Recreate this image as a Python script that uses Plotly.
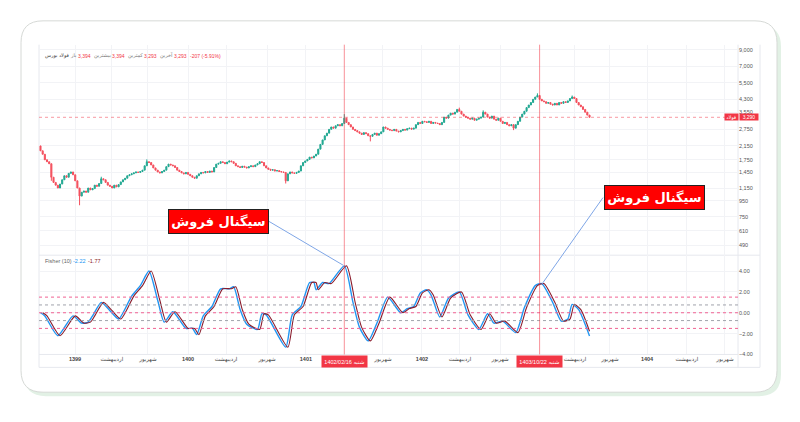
import math
import plotly.graph_objects as go

W, H = 800, 422

# ---------------- data ----------------
first_open = 2150
closes = [
    2000, 1900, 1750, 1700, 1650, 1350, 1250, 1200, 1150, 1220,
    1300, 1380, 1350, 1430, 1460, 1400, 1280, 1150, 1020, 1080,
    1100, 1080, 1150, 1120, 1140, 1200, 1180, 1230, 1320, 1300,
    1250, 1200, 1180, 1150, 1200, 1170, 1210, 1260, 1300, 1330,
    1380, 1400, 1420, 1440, 1460, 1450, 1470, 1500, 1600, 1700,
    1680, 1620, 1550, 1500, 1460, 1440, 1470, 1500, 1580, 1640,
    1620, 1600, 1560, 1500, 1470, 1440, 1420, 1450, 1410, 1380,
    1350, 1330, 1380, 1420, 1450, 1440, 1470, 1450, 1480, 1460,
    1560, 1640, 1660, 1700, 1680, 1650, 1690, 1720, 1700, 1660,
    1600, 1580, 1560, 1590, 1570, 1550, 1580, 1600, 1580, 1620,
    1650, 1700, 1680, 1600, 1550, 1520, 1500, 1510, 1480, 1490,
    1470, 1460, 1450, 1280, 1420, 1460, 1440, 1430, 1450, 1480,
    1600, 1680, 1720, 1760, 1820, 1800, 1850, 1900, 2050, 2200,
    2350, 2500, 2600, 2750, 2850, 2800, 2900, 2950, 2900, 3000,
    3250, 3050, 2950, 2850, 2750, 2700, 2650, 2600, 2550, 2620,
    2580, 2500, 2480, 2550, 2600, 2520, 2580, 2650, 2850, 2800,
    2750, 2720, 2700, 2750, 2680, 2650, 2700, 2750, 2720, 2780,
    2800, 2760, 2800, 2950, 3050, 3000, 3100, 3080, 3050, 3100,
    3000, 3050, 3020, 3000, 2950, 3050, 3300, 3250, 3400, 3500,
    3450, 3550, 3700, 3600, 3450, 3350, 3300, 3250, 3200, 3250,
    3150, 3200, 3250, 3300, 3550, 3450, 3300, 3250, 3350, 3200,
    3150, 3250, 3100, 3000, 3050, 2950, 2900, 2950, 2800, 2950,
    3100, 3300, 3450, 3600, 3800, 3950, 4100, 4300, 4450, 4550,
    4300, 4200, 4150, 4050, 4100, 4000, 3950, 4050, 3950, 4100,
    4050, 4150, 4100, 4200, 4350, 4450, 4350, 4100, 3950, 3850,
    3700, 3550, 3400, 3290,
]
wick_high = {28: 1360, 49: 1760, 140: 3450, 193: 3800, 204: 3650, 229: 4700, 245: 4550}
wick_low = {5: 1280, 18: 890, 113: 1230, 152: 2300, 218: 2720}

fisher_idx = [0, 2, 8, 15, 19, 22, 24, 28, 32, 36, 42, 46, 50, 54, 57, 61, 67, 70, 72, 75,
              79, 83, 87, 89, 92, 95, 100, 102, 104, 113, 116, 120, 124, 126, 127, 130, 133,
              140, 144, 147, 151, 155, 160, 166, 169, 172, 175, 178, 180, 184, 188, 193, 197,
              202, 206, 209, 213, 219, 223, 228, 231, 236, 240, 243, 245, 248, 253]
fisher_val = [0.0, -0.3, -2.2, -0.3, -1.0, -0.9, -0.3, 1.0, 0.2, -0.6, 1.6, 2.6, 4.0, 1.2, -0.9,
              0.1, -1.5, -1.5, -2.1, -0.3, 0.6, 2.3, 2.3, 2.5, 0.3, -1.1, -1.6, -0.1, -0.2, -3.3,
              -0.2, 0.6, 2.9, 2.9, 2.2, 2.9, 2.8, 4.5, 1.0, -1.4, -2.7, -1.0, 1.5, 0.0, 0.4, 0.6,
              1.9, 2.2, 1.7, -0.4, 1.4, 2.0, -0.2, -1.6, -0.1, -1.0, -0.8, -1.9, 0.5, 2.6, 2.8,
              1.0, -0.8, -0.6, 0.8, 0.3, -2.22]
trigger_last = -1.77

price_ticks = [490, 610, 750, 950, 1150, 1450, 1750, 2150, 2750, 3550, 4300, 5500, 7000, 9000]
fisher_ticks = [4, 2, 0, -2, -4]
fisher_levels_pink = [1.5, 0.0, -1.5]
fisher_levels_gray = [0.75, -0.75]

time_tick_idx = [15.9, 32.9, 49.5, 68.0, 85.5, 104.4, 122.3, 157.8, 175.8, 193.3, 211.8,
                 246.3, 262.4, 279.5, 297.9, 315.4]
time_tick_text = ["<b>1399</b>", "اردیبهشت", "شهریور", "<b>1400</b>", "اردیبهشت", "شهریور",
                  "<b>1401</b>", "شهریور", "<b>1402</b>", "اردیبهشت", "شهریور",
                  "اردیبهشت", "شهریور", "<b>1404</b>", "اردیبهشت", "شهریور"]

signal_idx = [140, 230]
signal_dates = ["1402/02/16 شنبه", "1403/10/22 شنبه"]
signal_text = "سیگنال فروش"
last_price = 3290
symbol = "فولاد"

header = [("فولاد بورس", "#444"), ("باز", "#777"), ("3,394", "#f23645"),
          ("بیشترین", "#777"), ("3,394", "#f23645"), ("کمترین", "#777"),
          ("3,293", "#f23645"), ("آخرین", "#777"), ("3,293", "#f23645"),
          ("-207 (-5.91%)", "#f23645")]
header_x = [43, 68, 76, 92, 110, 126, 142, 158, 172, 188]

# ---------------- helpers ----------------
def px(x):
    return x / W

def py(y):
    return 1 - y / H

def rrect(x0, y0, x1, y1, r):
    pts = [("M", x0 + r, y0), ("L", x1 - r, y0), ("Q", x1, y0, x1, y0 + r), ("L", x1, y1 - r),
           ("Q", x1, y1, x1 - r, y1), ("L", x0 + r, y1), ("Q", x0, y1, x0, y1 - r),
           ("L", x0, y0 + r), ("Q", x0, y0, x0 + r, y0)]
    s = ""
    for p in pts:
        s += p[0] + " "
        coords = p[1:]
        for k in range(0, len(coords), 2):
            s += f"{px(coords[k]):.5f},{py(coords[k+1]):.5f} "
    return s + "Z"

N = len(closes)
idx = list(range(N))
opens = [first_open] + closes[:-1]
highs = [wick_high.get(i, max(o, c)) for i, (o, c) in enumerate(zip(opens, closes))]
lows = [wick_low.get(i, min(o, c)) for i, (o, c) in enumerate(zip(opens, closes))]

X0_PX, X1_PX = 39, 738
BAR_PX = 2.17
C0_PX = 40.5
xr = [(X0_PX - C0_PX) / BAR_PX, (X1_PX - C0_PX) / BAR_PX]

TOP_Y0, TOP_Y1 = 45, 257
LOW_Y1 = 357

FONT = "Liberation Sans, DejaVu Sans, sans-serif"
FA_FONT = "DejaVu Sans, sans-serif"

fig = go.Figure()

fig.add_trace(go.Candlestick(
    x=idx, open=opens, high=highs, low=lows, close=closes,
    increasing=dict(line=dict(color="#22a892", width=1), fillcolor="#22a892"),
    decreasing=dict(line=dict(color="#f4505e", width=1), fillcolor="#f4505e"),
    whiskerwidth=0, xaxis="x", yaxis="y", hoverinfo="skip", showlegend=False,
))

fig.add_trace(go.Scatter(
    x=[xr[0], xr[1]], y=[last_price, last_price], mode="lines",
    line=dict(color="rgba(242,54,69,0.5)", width=1, dash="3px,3px"),
    xaxis="x", yaxis="y", hoverinfo="skip", showlegend=False,
))

fig.add_trace(go.Scatter(
    x=fisher_idx, y=fisher_val, mode="lines",
    line=dict(color="#2196f3", width=1.4, shape="spline", smoothing=0.6),
    xaxis="x", yaxis="y2", hoverinfo="skip", showlegend=False,
))
trig_x = [i + 1 for i in fisher_idx[:-1]] + [fisher_idx[-1]]
trig_y = fisher_val[:-1] + [trigger_last]
fig.add_trace(go.Scatter(
    x=trig_x, y=trig_y, mode="lines",
    line=dict(color="#8a1c2c", width=1.1, shape="spline", smoothing=0.6),
    xaxis="x", yaxis="y2", hoverinfo="skip", showlegend=False,
))

shapes = []
# card with soft green shadow
shapes.append(dict(type="path", xref="paper", yref="paper", path=rrect(24, 25, 781, 399, 22),
                   fillcolor="#e2f1e5", line=dict(width=0), layer="below"))
shapes.append(dict(type="path", xref="paper", yref="paper", path=rrect(21, 21, 777, 395, 22),
                   fillcolor="#ffffff", line=dict(color="#d6d9d6", width=1), layer="below"))
# panel borders
for (a, b, c, d) in [(39, 45, 39, 370), (760, 45, 760, 370), (39, 370, 760, 370),
                     (39, TOP_Y1, 760, TOP_Y1), (X1_PX, 45, X1_PX, 370), (39, LOW_Y1, 738, LOW_Y1)]:
    shapes.append(dict(type="line", xref="paper", yref="paper", x0=px(a), y0=py(b), x1=px(c), y1=py(d),
                       line=dict(color="#e6e8ee", width=1), layer="below"))
# fisher levels
for lv in fisher_levels_pink:
    shapes.append(dict(type="line", xref="paper", yref="y2", x0=px(X0_PX), x1=px(X1_PX), y0=lv, y1=lv,
                       line=dict(color="#f06292", width=1, dash="3px,3px")))
for lv in fisher_levels_gray:
    shapes.append(dict(type="line", xref="paper", yref="y2", x0=px(X0_PX), x1=px(X1_PX), y0=lv, y1=lv,
                       line=dict(color="#a0a3ab", width=1, dash="3px,3px")))
# signal vertical lines
for s in signal_idx:
    shapes.append(dict(type="line", xref="x", yref="paper", x0=s, x1=s, y0=py(LOW_Y1), y1=py(TOP_Y0),
                       line=dict(color="rgba(242,54,69,0.55)", width=1)))
# pointer lines
shapes.append(dict(type="line", xref="paper", yref="paper", x0=px(269), y0=py(223), x1=px(343), y1=py(267),
                   line=dict(color="#7fa6e6", width=1)))
shapes.append(dict(type="line", xref="paper", yref="paper", x0=px(603), y0=py(199), x1=px(542), y1=py(286),
                   line=dict(color="#7fa6e6", width=1)))

annotations = []
for (t, col), xl in zip(header, header_x):
    annotations.append(dict(xref="paper", yref="paper", x=px(xl), y=py(56), text=t, showarrow=False,
                            xanchor="left", yanchor="middle", font=dict(size=5, color=col, family=FONT)))
# fisher legend
for t, col, xl in [("Fisher (10)", "#666", 43), (f"{fisher_val[-1]:.2f}", "#2196f3", 71),
                   (f"{trigger_last:.2f}", "#8a1c2c", 86)]:
    annotations.append(dict(xref="paper", yref="paper", x=px(xl), y=py(263), text=t, showarrow=False,
                            xanchor="left", yanchor="middle", font=dict(size=5.5, color=col, family=FONT)))
# signal boxes
for cx, cy in [(218, 223.5), (654.5, 198.5)]:
    annotations.append(dict(xref="paper", yref="paper", x=px(cx), y=py(cy), text=f"<b>{signal_text}</b>",
                            showarrow=False, xanchor="center", yanchor="middle",
                            bgcolor="#ff0000", bordercolor="#222", borderwidth=1, borderpad=0,
                            width=99, height=23, font=dict(size=13, color="white", family=FA_FONT)))
# time boxes
for s, d in zip(signal_idx, signal_dates):
    annotations.append(dict(xref="x", yref="paper", x=s, y=py(364), text=d, showarrow=False,
                            xanchor="center", yanchor="middle", bgcolor="#f23645", borderpad=2,
                            width=41, height=7, font=dict(size=5.5, color="white", family=FONT)))
# price boxes
annotations.append(dict(xref="paper", yref="y", x=px(748.5), y=math.log10(last_price), text=f"{last_price:,}",
                        showarrow=False, xanchor="center", yanchor="middle", bgcolor="#f23645",
                        width=18, height=6, borderpad=0, font=dict(size=5, color="white", family=FONT)))
annotations.append(dict(xref="paper", yref="y", x=px(731.5), y=math.log10(last_price), text=symbol,
                        showarrow=False, xanchor="center", yanchor="middle", bgcolor="#f23645",
                        width=13, height=6, borderpad=0, font=dict(size=5, color="white", family=FONT)))

fig.update_layout(
    width=W, height=H, margin=dict(l=0, r=0, t=0, b=0),
    paper_bgcolor="white", plot_bgcolor="rgba(0,0,0,0)",
    font=dict(family=FONT, size=6, color="#555"),
    showlegend=False, shapes=shapes, annotations=annotations,
    xaxis=dict(domain=[px(X0_PX), px(X1_PX)], range=xr, anchor="y2", tickvals=time_tick_idx,
               ticktext=time_tick_text, showgrid=True, gridcolor="#f2f3f6", gridwidth=1,
               zeroline=False, showline=False, ticks="", rangeslider=dict(visible=False),
               tickfont=dict(size=5.5, color="#444", family=FONT), fixedrange=True),
    yaxis=dict(domain=[py(TOP_Y1), py(TOP_Y0)], type="log",
               range=[math.log10(7000) - (TOP_Y1 - 67) / 156, math.log10(7000) + (67 - TOP_Y0) / 156],
               side="right", anchor="x", tickvals=price_ticks, ticktext=[f"{v:,}" for v in price_ticks],
               showgrid=True, gridcolor="#f2f3f6", zeroline=False, showline=False, ticks="",
               tickfont=dict(size=5.5, color="#555", family=FONT)),
    yaxis2=dict(domain=[py(LOW_Y1), py(TOP_Y1)], range=[(315 - LOW_Y1) / 10.5, (315 - TOP_Y1) / 10.5],
                side="right", anchor="x", tickvals=fisher_ticks,
                ticktext=[f"{v:.2f}".replace("-", "\u2212") for v in fisher_ticks],
                showgrid=True, gridcolor="#f2f3f6", zeroline=False, showline=False, ticks="",
                tickfont=dict(size=5.5, color="#555", family=FONT)),
)

fig.write_html("out.html", config={"displayModeBar": False},
               post_script="document.body.style.margin='0';document.body.style.overflow='hidden';")
